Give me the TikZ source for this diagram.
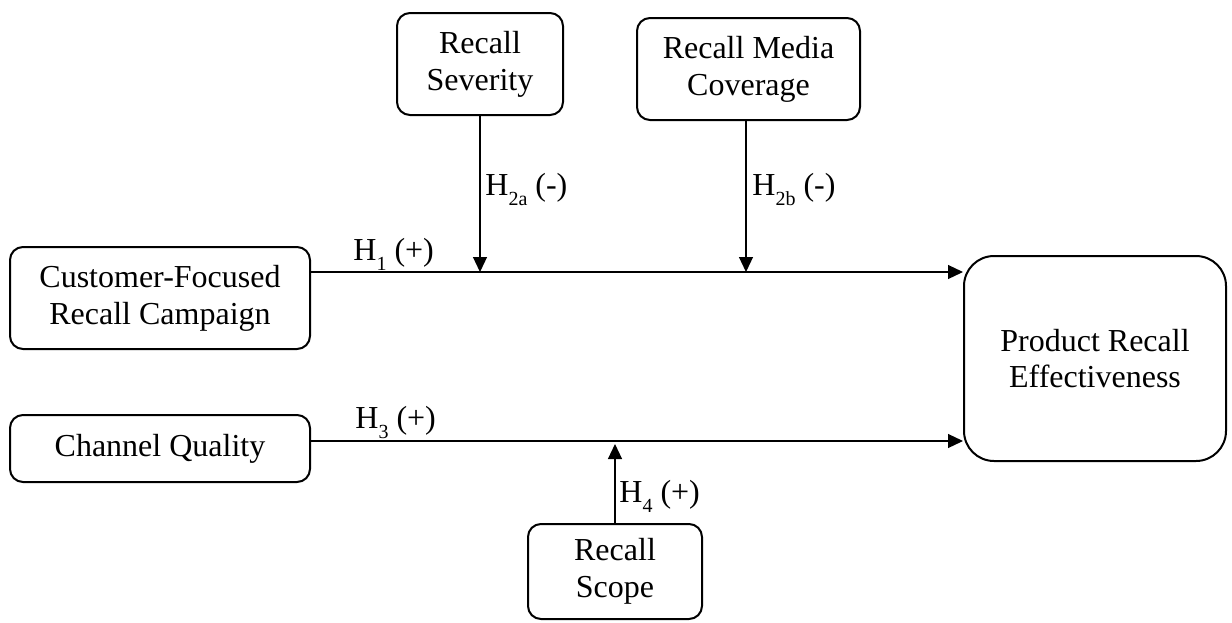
\documentclass[tikz,border=0pt]{standalone}
\usepackage{fontspec}
\setmainfont{Liberation Serif}
\usetikzlibrary{arrows.meta,calc}
% lowered subscript for hypothesis labels
\newcommand{\hsub}[1]{\raisebox{-5pt}{\fontsize{10}{10}\selectfont #1}}
\begin{document}
\begin{tikzpicture}[x=0.5pt,y=-0.5pt,
  txt/.style={font=\fontsize{16}{18.4}\selectfont},
  box/.style={txt, draw, line width=1pt, rounded corners=6.5pt, align=center, inner sep=0pt},
  link/.style={line width=0.6pt},
  arr/.style={link, -{Triangle[length=7.5pt,width=7pt]}},
  hyp/.style={txt, anchor=base west, inner sep=0pt}]
\useasboundingbox (0,0) rectangle (1232,622);

% constructs
\node[box, minimum width=83pt, minimum height=51pt] (sev) at (480,64) {Recall\\Severity};
\node[box, minimum width=111.5pt, minimum height=51pt] (med) at (748.5,69) {Recall Media\\Coverage};
\node[box, minimum width=150pt, minimum height=51pt] (cfrc) at (160,298) {Customer-Focused\\Recall Campaign};
\node[box, minimum width=150pt, minimum height=33.5pt] (chq) at (160,448.5) {Channel Quality};
\node[box, minimum width=131pt, minimum height=102.5pt, rounded corners=15pt] (pre) at (1095,358.5) {Product Recall\\Effectiveness};
\node[box, minimum width=87pt, minimum height=47.5pt] (scope) at (615,571.5) {Recall\\Scope};

% heights of the two main paths
\coordinate (h1y) at (0,272);
\coordinate (h3y) at (0,441);

% main effects
\draw[arr] (cfrc.east |- h1y) -- (pre.west |- h1y);
\draw[arr] (chq.east |- h3y) -- (pre.west |- h3y);

% moderators
\draw[arr] (sev.south) -- (sev.south |- h1y);
\draw[arr] (med.south -| 746,0) -- (746,272);
\draw[arr, shorten >=1.5pt] (scope.north) -- (scope.north |- h3y);

% hypothesis labels
\node[hyp] (l1) at (353,260) {H\hsub{1} (+)};
\node[hyp] (l2a) at (485,195) {H\hsub{2a} (-)};
\node[hyp] (l2b) at (752,195) {H\hsub{2b} (-)};
\node[hyp] (l3) at (355,428) {H\hsub{3} (+)};
\node[hyp] (l4) at (619,502) {H\hsub{4} (+)};
\end{tikzpicture}
\end{document}
